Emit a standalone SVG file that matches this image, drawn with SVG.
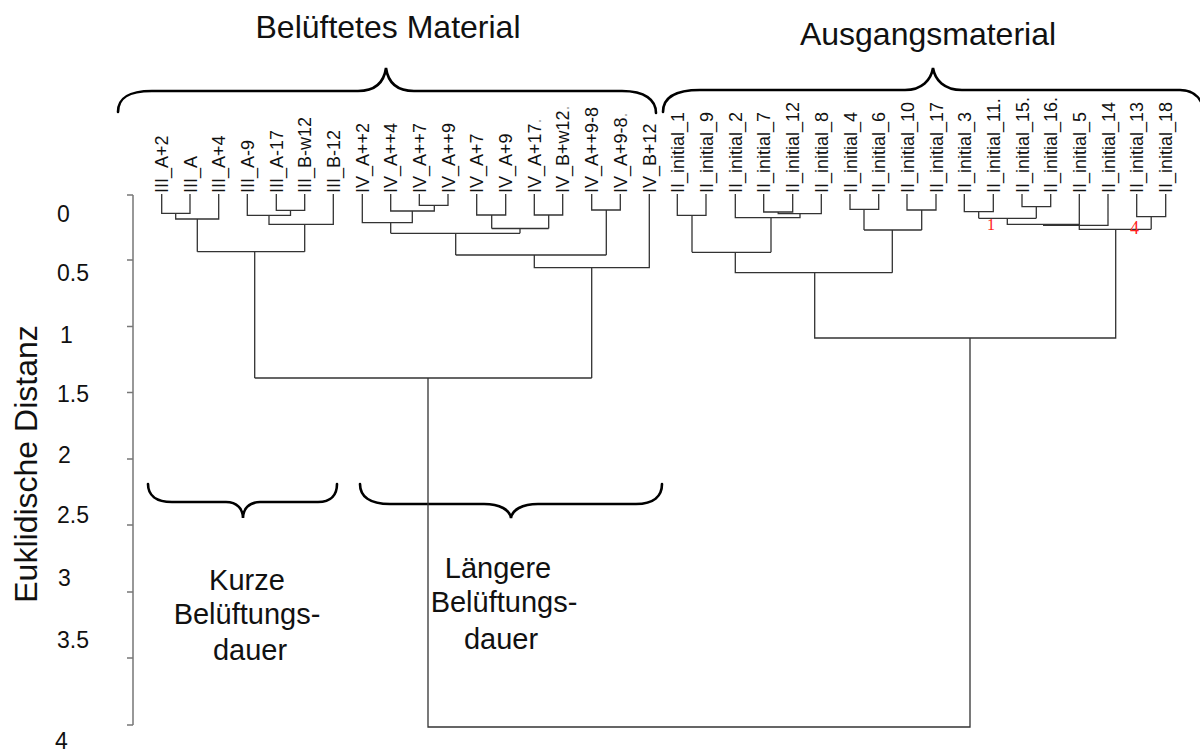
<svg xmlns="http://www.w3.org/2000/svg" width="1200" height="754" viewBox="0 0 1200 754">
<style>
.lbl{font-family:"Liberation Sans",Arial,sans-serif;font-size:18px;fill:#111}
.ttl{font-family:"Liberation Sans",Arial,sans-serif;font-size:32px;fill:#111;text-anchor:middle}
.grp{font-family:"Liberation Sans",Arial,sans-serif;font-size:29px;fill:#111;text-anchor:middle}
.tick{font-family:"Liberation Sans",Arial,sans-serif;font-size:23px;fill:#111}
.ln{stroke:#333;stroke-width:1.3;fill:none}
.ax{stroke:#777;stroke-width:1.5;fill:none}
.brace{stroke:#000;stroke-width:2.6;fill:none;stroke-linecap:round}
.red{font-family:"Liberation Serif",serif;fill:#f22}
.dot{fill:#aaa}
</style>
<rect width="1200" height="754" fill="#fff"/>
<g id="titles">
<text class="ttl" x="388" y="38">Belüftetes Material</text>
<text class="ttl" x="928" y="45">Ausgangsmaterial</text>
<text class="ttl" font-size="33" transform="translate(37,464) rotate(-90)">Euklidische Distanz</text>
</g>
<g id="braces">
<path class="brace" d="M118,112 C118,98 128,91 152,91 L358,91 C376,91 384,82 386,68 C388,82 396,91 414,91 L622,91 C645,91 656,100 656,113"/>
<path class="brace" d="M663,112 C663,98 675,90 700,90 L905,90 C922,90 931,80 933,68 C935,80 944,90 962,90 L1180,90 C1195,90 1203,100 1205,115"/>
<path class="brace" d="M148,484 C148,495 156,502 172,502 L226,502 C237,502 243,509 243,518 C243,509 249,502 260,502 L318,502 C331,502 337,495 337,484"/>
<path class="brace" d="M360,484 C360,496 369,504 390,504 L484,504 C500,504 510,510 511,518 C512,510 522,504 538,504 L636,504 C654,504 662,496 662,484"/>
</g>
<g id="group-labels">
<text class="grp" x="247" y="590">Kurze</text>
<text class="grp" x="247" y="624">Belüftungs-</text>
<text class="grp" x="250" y="660">dauer</text>
<text class="grp" x="498" y="578">Längere</text>
<text class="grp" x="504" y="612">Belüftungs-</text>
<text class="grp" x="501" y="649">dauer</text>
</g>
<g id="axis">
<path class="ax" d="M133,195 V725 M127,195 H133 M127,260 H133 M127,326.5 H133 M127,392.5 H133 M127,459 H133 M127,525 H133 M127,592 H133 M127,658 H133 M127,725 H133"/>
<text class="tick" x="57" y="222">0</text>
<text class="tick" x="57" y="281">0.5</text>
<text class="tick" x="60" y="343">1</text>
<text class="tick" x="57" y="402">1.5</text>
<text class="tick" x="58" y="463">2</text>
<text class="tick" x="57" y="523">2.5</text>
<text class="tick" x="58" y="586">3</text>
<text class="tick" x="57" y="648">3.5</text>
<text class="tick" x="55" y="749">4</text>
</g>
<g id="leaves">
<g id="n-III_A2"><text class="lbl" transform="translate(168.2,193) rotate(-90)">III_A+2</text></g>
<g id="n-III_A"><text class="lbl" transform="translate(196.5,193) rotate(-90)">III_A</text></g>
<g id="n-III_A4"><text class="lbl" transform="translate(225.2,193) rotate(-90)">III_A+4</text></g>
<g id="n-III_A-9"><text class="lbl" transform="translate(253.8,193) rotate(-90)">III_A-9</text></g>
<g id="n-III_A-17"><text class="lbl" transform="translate(282.8,193) rotate(-90)">III_A-17</text></g>
<g id="n-III_B-w12"><text class="lbl" transform="translate(311.2,193) rotate(-90)">III_B-w12</text></g>
<g id="n-III_B-12"><text class="lbl" transform="translate(339.8,193) rotate(-90)">III_B-12</text></g>
<g id="n-IV_A2"><text class="lbl" transform="translate(368.8,193) rotate(-90)">IV_A++2</text></g>
<g id="n-IV_A4"><text class="lbl" transform="translate(397.2,193) rotate(-90)">IV_A++4</text></g>
<g id="n-IV_A7"><text class="lbl" transform="translate(425.8,193) rotate(-90)">IV_A++7</text></g>
<g id="n-IV_A9"><text class="lbl" transform="translate(454.5,193) rotate(-90)">IV_A++9</text></g>
<g id="n-IV_Ap7"><text class="lbl" transform="translate(483.2,193) rotate(-90)">IV_A+7</text></g>
<g id="n-IV_Ap9"><text class="lbl" transform="translate(512.2,193) rotate(-90)">IV_A+9</text></g>
<g id="n-IV_Ap17"><text class="lbl" transform="translate(540.8,193) rotate(-90)">IV_A+17<tspan class="dot">.</tspan></text></g>
<g id="n-IV_Bw12"><text class="lbl" transform="translate(569.2,193) rotate(-90)">IV_B+w12<tspan class="dot">.</tspan></text></g>
<g id="n-IV_A9-8"><text class="lbl" transform="translate(598.2,193) rotate(-90)">IV_A++9-8</text></g>
<g id="n-IV_Ap9-8"><text class="lbl" transform="translate(626.8,193) rotate(-90)">IV_A+9-8<tspan class="dot">.</tspan></text></g>
<g id="n-IV_B12"><text class="lbl" transform="translate(655.8,193) rotate(-90)">IV_B+12</text></g>
<g id="n-II_1"><text class="lbl" transform="translate(683.8,193) rotate(-90)">II_initial_1</text></g>
<g id="n-II_9"><text class="lbl" transform="translate(712.5,193) rotate(-90)">II_initial_9</text></g>
<g id="n-II_2"><text class="lbl" transform="translate(741.8,193) rotate(-90)">II_initial_2</text></g>
<g id="n-II_7"><text class="lbl" transform="translate(770.2,193) rotate(-90)">II_initial_7</text></g>
<g id="n-II_12"><text class="lbl" transform="translate(799.2,193) rotate(-90)">II_initial_12</text></g>
<g id="n-II_8"><text class="lbl" transform="translate(827.8,193) rotate(-90)">II_initial_8</text></g>
<g id="n-II_4"><text class="lbl" transform="translate(856.5,193) rotate(-90)">II_initial_4</text></g>
<g id="n-II_6"><text class="lbl" transform="translate(885.2,193) rotate(-90)">II_initial_6</text></g>
<g id="n-II_10"><text class="lbl" transform="translate(913.5,193) rotate(-90)">II_initial_10</text></g>
<g id="n-II_17"><text class="lbl" transform="translate(942.5,193) rotate(-90)">II_initial_17</text></g>
<g id="n-II_3"><text class="lbl" transform="translate(970.8,193) rotate(-90)">II_initial_3</text></g>
<g id="n-II_11"><text class="lbl" transform="translate(999.8,193) rotate(-90)">II_initial_11.</text></g>
<g id="n-II_15"><text class="lbl" transform="translate(1028.5,193) rotate(-90)">II_initial_15.</text></g>
<g id="n-II_16"><text class="lbl" transform="translate(1057.2,193) rotate(-90)">II_initial_16.</text></g>
<g id="n-II_5"><text class="lbl" transform="translate(1085.8,193) rotate(-90)">II_initial_5</text></g>
<g id="n-II_14"><text class="lbl" transform="translate(1114.5,193) rotate(-90)">II_initial_14</text></g>
<g id="n-II_13"><text class="lbl" transform="translate(1143.2,193) rotate(-90)">II_initial_13</text></g>
<g id="n-II_18"><text class="lbl" transform="translate(1172.2,193) rotate(-90)">II_initial_18</text></g>
</g>
<g id="connectors">
<path class="ln" d="M161.7,194 V213.3 H190 V194 M175.7,213.3 V219 H218.7 V194 M197.3,219 V251.7"/>
<path class="ln" d="M276.3,194 V210.3 H304.7 V194 M290.5,210.3 V215.3 H247.3 V194 M269,215.3 V224.3 H333.3 V194 M304.7,224.3 V251.7 M197.3,251.7 H304.7 M254.7,251.7 V378"/>
<path class="ln" d="M419.3,194 V205.3 H448 V194 M434.3,205.3 V211 H390.7 V194 M412.3,211 V222.7 H362.3 V194 M390.7,222.7 V233.3"/>
<path class="ln" d="M476.7,194 V215 H505.7 V194 M491.7,215 V228.5 M534.3,194 V215 H562.7 V194 M548.7,215 V228.5 M491.7,228.5 H548.7 M520,228.5 V233.3 M390.7,233.3 H520 M455.7,233.3 V255"/>
<path class="ln" d="M591.7,194 V210 H620.3 V194 M606.3,210 V255 M455.7,255 H606.3 M534.3,255 V267.7 H649.3 V194 M591.7,267.7 V378 M254.7,378 H591.7 M428,378 V727 H970 V338"/>
<path class="ln" d="M677.3,194 V215.3 H706 V194 M692,215.3 V252.3 M763.7,194 V212 H792.7 V194 M778.2,212 V213.7 H821.3 V194 M800,213.7 V217.7 H735.3 V194 M771,217.7 V252.3 M692,252.3 H771 M735.3,252.3 V272.7 H892.3"/>
<path class="ln" d="M850,194 V209.3 H878.7 V194 M864,209.3 V230 M907,194 V210 H936 V194 M921.7,210 V230 M864,230 H921.7 M892.3,230 V272.7 M814.7,272.7 V338 H1115.7 V229.3"/>
<path class="ln" d="M964.3,194 V211.7 H993.3 V194 M978.7,211.7 V218.3 M1022,194 V206.7 H1050.7 V194 M1036.3,206.7 V218.3 M978.7,218.3 H1036.3 M1007.3,218.3 V224.3 H1079.3 M1043,225.3 H1108 V194 M1079.3,194 V229.3 H1151.2 M1136.7,194 V216.7 H1165.7 V194 M1151.2,216.7 V229.3"/>
</g>
<g id="marks">
<text class="red" x="987" y="230" font-size="16">1</text>
<text class="red" x="1130" y="234" font-size="18" font-family="Liberation Sans,sans-serif">4</text>
</g>
</svg>
